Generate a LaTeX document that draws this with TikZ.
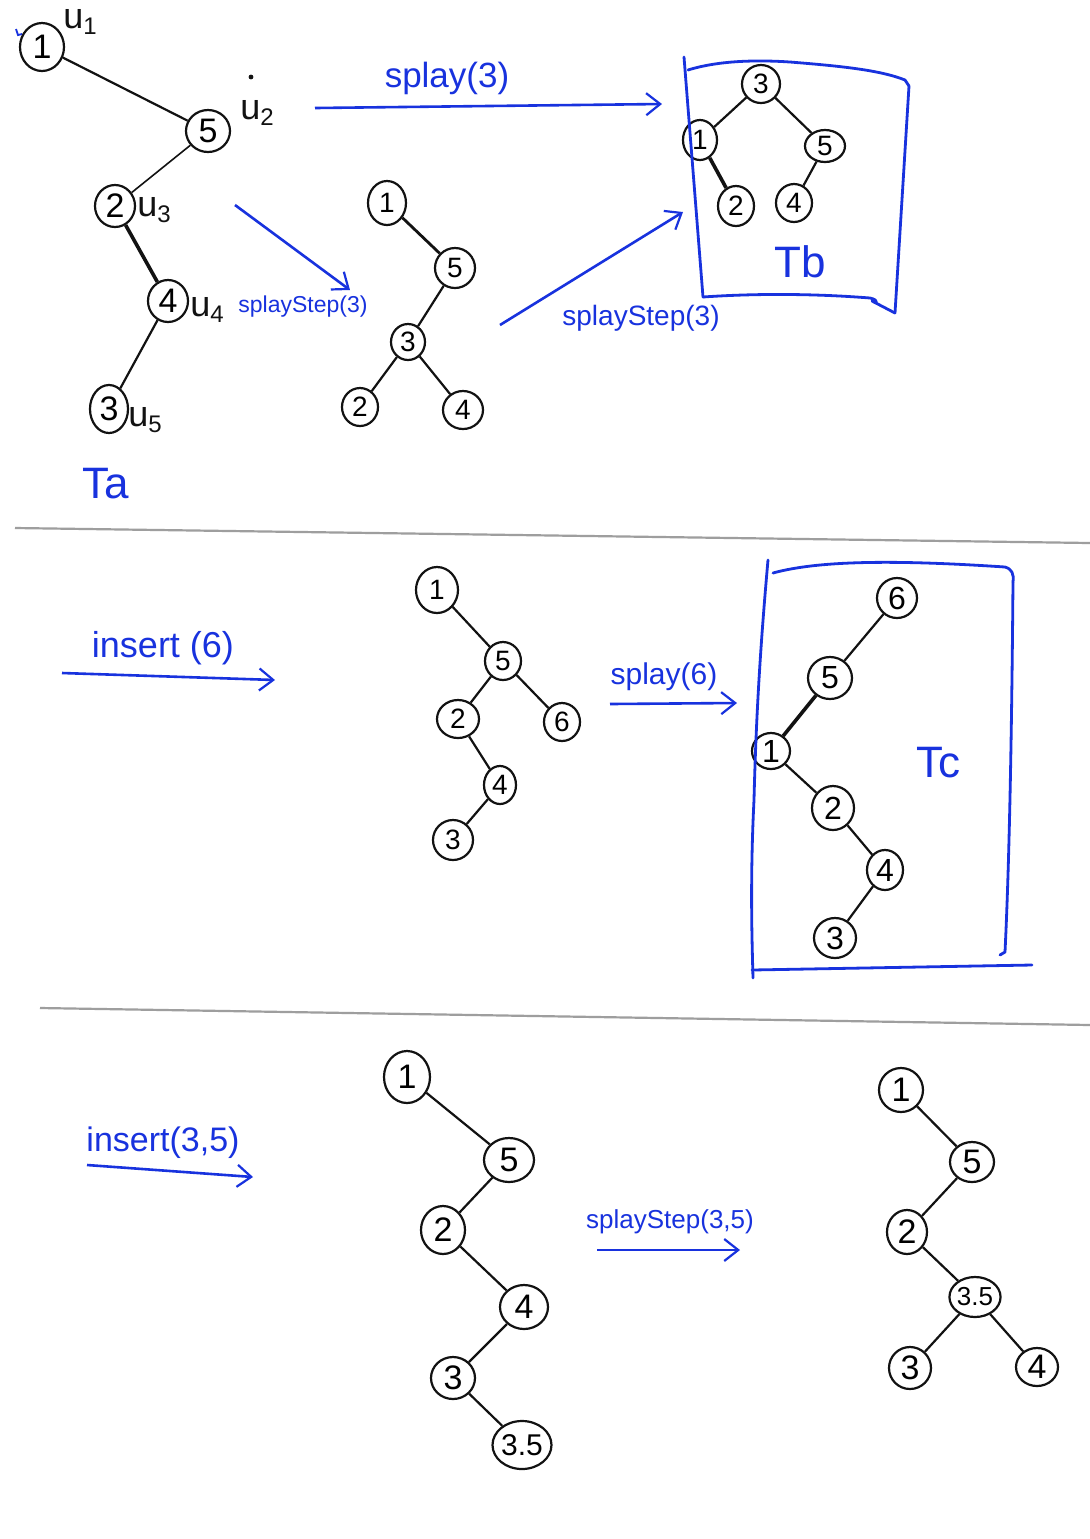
\documentclass[tikz,border=0pt]{standalone}
\usepackage{fontspec}
\setmainfont{Liberation Sans}
\usetikzlibrary{shapes.geometric,arrows.meta}
\definecolor{ink}{RGB}{18,18,18}
\definecolor{pen}{RGB}{24,50,222}
\definecolor{rulegray}{RGB}{158,158,158}
\newcommand\usub[1]{u\raisebox{-0.35ex}{\fontsize{12}{12}\selectfont #1}}
\tikzset{
  key/.style={ellipse,draw=ink,line width=1.1pt,inner sep=0pt,font=\fontsize{16}{16}\selectfont},
  sz/.style 2 args={minimum width=#1,minimum height=#2},
  big/.style={font=\fontsize{17}{17}\selectfont},
  small/.style={font=\fontsize{14}{14}\selectfont},
  link/.style={draw=ink,line width=1.1pt},
  heavy/.style={draw=ink,line width=1.8pt},
  move/.style={draw=pen,line width=1.3pt,-{Straight Barb[length=7pt,width=11pt,line width=1.1pt]}},
  lab/.style={text=pen,inner sep=0pt},
  treename/.style={text=pen,inner sep=0pt,font=\fontsize{22}{22}\selectfont},
  frame/.style={draw=pen,line width=1.4pt,line cap=round,line join=round},
  tag/.style={text=ink,inner sep=0pt,font=\fontsize{18}{18}\selectfont}
}
\begin{document}
\begin{tikzpicture}[x=0.5pt,y=-0.5pt]
\useasboundingbox[fill=white] (0,0) rectangle (1090,1539);

% ---------- first row: T_a ----------
\node[key,big,sz={22pt}{24pt}] (a1) at (42,47) {1};
\node[key,big,sz={22pt}{21pt}] (a5) at (208,131) {5};
\node[key,big,sz={20pt}{21pt}] (a2) at (115,206) {2};
\node[key,big,sz={20pt}{21pt}] (a4) at (168,301) {4};
\node[key,big,sz={19pt}{24pt}] (a3) at (109,409) {3};
\draw[link] (a1) -- (a5);
\draw[link,line width=0.8pt] (a5) -- (a2);
\draw[heavy] (a2) -- (a4);
\draw[link] (a4) -- (a3);
\node[tag] (u1) at (80,22) {\usub{1}};
\node[tag] (u2) at (257,113) {\usub{2}};
\node[tag] (u3) at (154,210) {\usub{3}};
\node[tag] (u4) at (207,310) {\usub{4}};
\node[tag] (u5) at (145,420) {\usub{5}};
\fill[ink] (251,77) circle (1.2pt);
\draw[pen,line width=0.9pt] (16,29) -- (18,35) -- (22,34);
\node[treename] (ta) at (106,484) {Ta};

% ---------- first row: after one splay step ----------
\node[key,small,sz={19pt}{22pt}] (m1) at (387,203) {1};
\node[key,small,sz={20pt}{20pt}] (m5) at (455,268) {5};
\node[key,small,sz={17pt}{18pt}] (m3) at (408,342) {3};
\node[key,small,sz={18pt}{19pt}] (m2) at (360,407) {2};
\node[key,small,sz={20pt}{19pt}] (m4) at (463,410) {4};
\draw[heavy,line width=1.4pt] (m1) -- (m5);
\draw[link] (m5) -- (m3);
\draw[link] (m3) -- (m2);
\draw[link] (m3) -- (m4);

% ---------- first row: T_b ----------
\node[key,small,sz={19pt}{19pt}] (b3) at (761,84) {3};
\node[key,small,sz={17pt}{20pt}] (b1) at (700,140) {1};
\node[key,small,sz={20pt}{16pt}] (b5) at (825,146) {5};
\node[key,small,sz={18pt}{20pt}] (b2) at (736,206) {2};
\node[key,small,sz={18pt}{19pt}] (b4) at (794,203) {4};
\draw[link] (b3) -- (b1);
\draw[link] (b3) -- (b5);
\draw[heavy] (b1) -- (b2);
\draw[link] (b5) -- (b4);
\node[treename] (tb) at (800,262) {Tb};
\draw[frame] (684,57) -- (703,297);
\draw[frame] (688,70) .. controls (720,60) and (760,60) .. (790,62)
  .. controls (840,66) and (880,70) .. (905,80) -- (909,86);
\draw[frame] (909,86) -- (895,313);
\draw[frame] (703,297) .. controls (760,293) and (820,294) .. (870,298)
  .. controls (880,300) and (876,305) .. (872,301) -- (895,313);

% ---------- first row: arrows ----------
\coordinate (s1a) at (315,108);
\coordinate (s1b) at (662,104);
\draw[move] (s1a) -- (s1b);
\node[lab,font=\fontsize{17.5}{17.5}\selectfont] (l1) at (447,78) {splay(3)};
\coordinate (s2a) at (235,205);
\coordinate (s2b) at (350,290);
\draw[move] (s2a) -- (s2b);
\node[lab,font=\fontsize{11.5}{11.5}\selectfont] (l2) at (303,307) {splayStep(3)};
\coordinate (s3a) at (500,325);
\coordinate (s3b) at (683,212);
\draw[move] (s3a) -- (s3b);
\node[lab,font=\fontsize{14}{14}\selectfont] (l3) at (641,318) {splayStep(3)};

% ---------- separator ----------
\draw[rulegray,line width=1.1pt] (15,528) -- (1090,543);

% ---------- second row: after insert(6) ----------
\coordinate (i1a) at (62,673);
\coordinate (i1b) at (275,680);
\draw[move] (i1a) -- (i1b);
\node[lab,font=\fontsize{18}{18}\selectfont] (l4) at (163,648) {insert (6)};
\node[key,small,sz={21pt}{23pt}] (c1) at (437,590) {1};
\node[key,small,sz={18pt}{19pt}] (c5) at (503,661) {5};
\node[key,small,sz={21pt}{19pt}] (c2) at (458,719) {2};
\node[key,small,sz={18pt}{19pt}] (c6) at (562,722) {6};
\node[key,small,sz={16pt}{19pt}] (c4) at (500,785) {4};
\node[key,small,sz={20pt}{20pt}] (c3) at (453,840) {3};
\draw[link] (c1) -- (c5);
\draw[link] (c5) -- (c2);
\draw[link] (c5) -- (c6);
\draw[link] (c2) -- (c4);
\draw[link] (c4) -- (c3);
\coordinate (p6a) at (610,704);
\coordinate (p6b) at (737,703);
\draw[move] (p6a) -- (p6b);
\node[lab,font=\fontsize{15}{15}\selectfont] (l5) at (664,677) {splay(6)};

% ---------- second row: T_c ----------
\node[key,sz={20pt}{20pt}] (t6) at (897,598) {6};
\node[key,sz={22pt}{21pt}] (t5) at (830,678) {5};
\node[key,sz={19pt}{18pt}] (t1) at (771,751) {1};
\node[key,sz={21pt}{22pt}] (t2) at (833,808) {2};
\node[key,sz={18pt}{20pt}] (t4) at (885,870) {4};
\node[key,sz={21pt}{20pt}] (t3) at (835,938) {3};
\draw[link] (t6) -- (t5);
\draw[heavy] (t5) -- (t1);
\draw[link] (t1) -- (t2);
\draw[link] (t2) -- (t4);
\draw[link] (t4) -- (t3);
\node[treename] (tc) at (938,763) {Tc};
\draw[frame] (768,560) .. controls (760,650) and (756,720) .. (754,800)
  .. controls (750,880) and (752,940) .. (753,978);
\draw[frame] (773,573) .. controls (820,560) and (900,560) .. (1005,567)
  .. controls (1012,569) and (1014,574) .. (1013,582);
\draw[frame] (1013,582) .. controls (1012,700) and (1010,850) .. (1005,952) -- (1000,955);
\draw[frame] (752,970) -- (1032,965);

% ---------- separator ----------
\draw[rulegray,line width=1.1pt] (40,1008) -- (1090,1025);

% ---------- third row: after insert(3.5) ----------
\coordinate (i2a) at (87,1165);
\coordinate (i2b) at (253,1177);
\draw[move] (i2a) -- (i2b);
\node[lab,font=\fontsize{17}{17}\selectfont] (l6) at (163,1143) {insert(3,5)};
\node[key,big,sz={23pt}{26pt}] (d1) at (407,1077) {1};
\node[key,big,sz={25pt}{22pt}] (d5) at (509,1160) {5};
\node[key,big,sz={22pt}{24pt}] (d2) at (443,1230) {2};
\node[key,big,sz={24pt}{22pt}] (d4) at (524,1307) {4};
\node[key,big,sz={22pt}{21pt}] (d3) at (453,1378) {3};
\node[key,font=\fontsize{15}{15}\selectfont,sz={26pt}{24pt}] (d35) at (522,1445) {3.5};
\draw[link] (d1) -- (d5);
\draw[link] (d5) -- (d2);
\draw[link] (d2) -- (d4);
\draw[link] (d4) -- (d3);
\draw[link] (d3) -- (d35);
\coordinate (p7a) at (597,1250);
\coordinate (p7b) at (740,1250);
\draw[move] (p7a) -- (p7b);
\node[lab,font=\fontsize{13}{13}\selectfont] (l7) at (670,1222) {splayStep(3,5)};

% ---------- third row: after the splay step ----------
\node[key,big,sz={22pt}{22pt}] (e1) at (901,1090) {1};
\node[key,big,sz={22pt}{20pt}] (e5) at (972,1162) {5};
\node[key,big,sz={20pt}{22pt}] (e2) at (907,1232) {2};
\node[key,font=\fontsize{13}{13}\selectfont,sz={21pt}{20pt}] (e35) at (975,1297) {3.5};
\node[key,big,sz={21pt}{21pt}] (e3) at (910,1368) {3};
\node[key,big,sz={21pt}{19pt}] (e4) at (1037,1367) {4};
\draw[link] (e1) -- (e5);
\draw[link] (e5) -- (e2);
\draw[link] (e2) -- (e35);
\draw[link] (e35) -- (e3);
\draw[link] (e35) -- (e4);
\end{tikzpicture}
\end{document}
